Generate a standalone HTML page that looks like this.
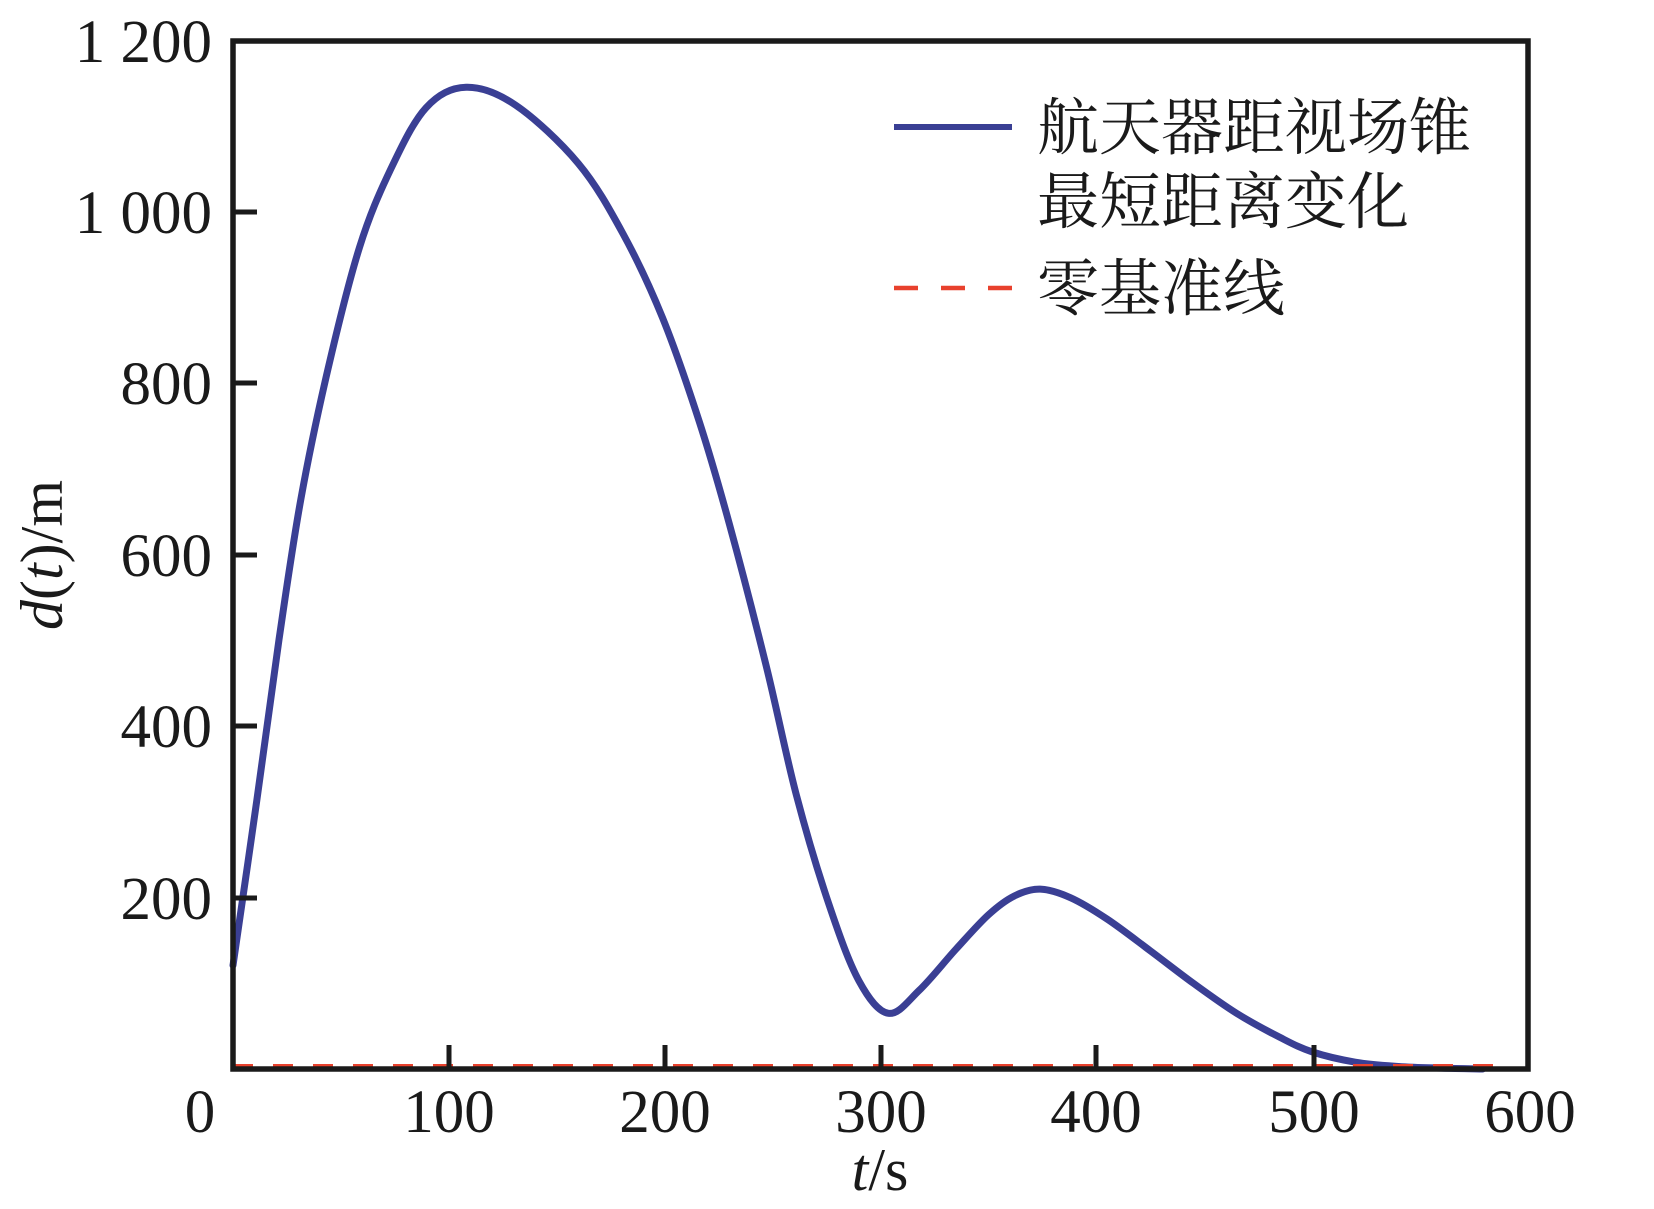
<!DOCTYPE html>
<html><head><meta charset="utf-8"><style>
html,body{margin:0;padding:0;background:#fff;}
svg{display:block;}
text{font-family:"Liberation Serif","Noto Serif CJK SC",serif;fill:#1a1a1a;}
</style></head><body>
<svg id="s" width="1654" height="1209" viewBox="0 0 1654 1209" xmlns="http://www.w3.org/2000/svg">
<rect width="1654" height="1209" fill="#fff"/>
<path id="curve" fill="none" stroke="#3a3f94" stroke-width="7" stroke-linejoin="round" stroke-linecap="round"/>
<line x1="233" y1="1066" x2="1500" y2="1066" stroke="#e8412d" stroke-width="4" stroke-dasharray="20 20"/>
<rect x="233" y="41" width="1295" height="1028" fill="none" stroke="#1a1a1a" stroke-width="5.5"/>
<g stroke="#1a1a1a" stroke-width="5">
<line x1="233" y1="212" x2="257" y2="212"/>
<line x1="233" y1="383" x2="257" y2="383"/>
<line x1="233" y1="555" x2="257" y2="555"/>
<line x1="233" y1="726" x2="257" y2="726"/>
<line x1="233" y1="898" x2="257" y2="898"/>
<line x1="449" y1="1069" x2="449" y2="1045"/>
<line x1="665" y1="1069" x2="665" y2="1045"/>
<line x1="881" y1="1069" x2="881" y2="1045"/>
<line x1="1096" y1="1069" x2="1096" y2="1045"/>
<line x1="1314" y1="1069" x2="1314" y2="1045"/>
</g>
<g font-size="61" text-anchor="end">
<text x="212" y="62">1 200</text>
<text x="212" y="233">1 000</text>
<text x="212" y="404">800</text>
<text x="212" y="576">600</text>
<text x="212" y="747">400</text>
<text x="212" y="919">200</text>
</g>
<g font-size="61" text-anchor="middle">
<text x="200" y="1132">0</text>
<text x="449" y="1132">100</text>
<text x="665" y="1132">200</text>
<text x="881" y="1132">300</text>
<text x="1096" y="1132">400</text>
<text x="1314" y="1132">500</text>
<text x="1530" y="1132">600</text>
</g>
<text x="880" y="1190" font-size="60" text-anchor="middle"><tspan font-style="italic">t</tspan>/s</text>
<text transform="translate(62,555) rotate(-90)" font-size="60" text-anchor="middle"><tspan font-style="italic">d</tspan>(<tspan font-style="italic">t</tspan>)/m</text>
<line x1="894" y1="127" x2="1012" y2="127" stroke="#3a3f94" stroke-width="6"/>
<line x1="894" y1="288" x2="1012" y2="288" stroke="#e8412d" stroke-width="4.5" stroke-dasharray="24 23"/>
<g font-size="62" style="font-family:'Noto Serif CJK SC','Noto Sans CJK SC',serif">
<text x="1037" y="149">航天器距视场锥</text>
<text x="1037" y="223">最短距离变化</text>
<text x="1037" y="310">零基准线</text>
</g>
</svg>
<script>
var pts=[[0,121],[11,313],[21.3,501],[31.5,666],[44,817],[58.6,959],[73,1050],[89.4,1122],[108,1146],[131,1125],[160,1057],[180.7,975],[199,877],[216,756],[230,636],[247,471],[261,320],[276,193],[290,103],[303.7,65],[318,92],[335,140],[350,180],[362,202],[374,210],[388,200],[405,175],[425,138],[445,100],[465,65],[485,37],[500,20],[520,8],[540,3],[560,1],[579,0]];
function X(t){return 233+t*1295/600;}function Y(d){return 1069-d*1028/1200;}
var p=pts.map(function(a){return [X(a[0]),Y(a[1])];});
var d="M"+p[0][0]+","+p[0][1];
for(var i=0;i<p.length-1;i++){var p0=p[i-1]||p[i],p1=p[i],p2=p[i+1],p3=p[i+2]||p2;
var c1x=p1[0]+(p2[0]-p0[0])/6,c1y=p1[1]+(p2[1]-p0[1])/6,c2x=p2[0]-(p3[0]-p1[0])/6,c2y=p2[1]-(p3[1]-p1[1])/6;
d+=" C"+c1x+","+c1y+" "+c2x+","+c2y+" "+p2[0]+","+p2[1];}
document.getElementById("curve").setAttribute("d",d);
</script>
</body></html>
